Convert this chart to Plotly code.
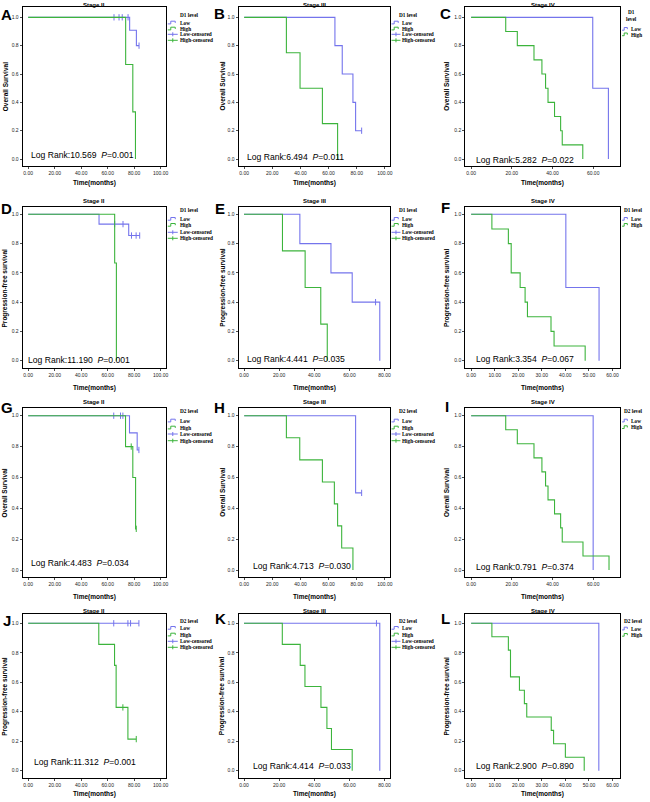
import plotly.graph_objects as go
from bisect import bisect_right

# ---------------- data ----------------
# A: Overall survival, Stage II, D1 level
A_low_t = [0, 76.6, 81.7, 83.7]
A_low_s = [1.0, 0.909, 0.800, 0.800]
A_low_cens = [64.8, 68.6, 71.0, 75.4, 83.7]
A_high_t = [0, 73.6, 79.0, 81.0]
A_high_s = [1.0, 0.667, 0.333, 0.0]
A_high_cens = []

# B: Overall survival, Stage III, D1 level
B_low_t = [0, 64.5, 69.7, 77.3, 79.2, 83.5]
B_low_s = [1.0, 0.8, 0.6, 0.4, 0.2, 0.2]
B_low_cens = [83.5]
B_high_t = [0, 30.0, 39.7, 55.6, 66.4]
B_high_s = [1.0, 0.75, 0.5, 0.25, 0.0]
B_high_cens = []

# C: Overall survival, Stage IV, D1 level
C_low_t = [0, 59.8, 67.5]
C_low_s = [1.0, 0.5, 0.0]
C_low_cens = []
C_high_t = [0, 17.0, 22.7, 30.9, 34.8, 36.6, 37.8, 41.0, 44.0, 44.8, 54.9]
C_high_s = [1.0, 0.9, 0.8, 0.7, 0.6, 0.5, 0.4, 0.3, 0.2, 0.1, 0.0]
C_high_cens = []

# D: Progression-free survival, Stage II, D1 level
D_low_t = [0, 53.5, 75.9, 84.2]
D_low_s = [1.0, 0.933, 0.855, 0.855]
D_low_cens = [65.3, 71.6, 78.0, 81.5, 84.2]
D_high_t = [0, 65.3, 66.6]
D_high_s = [1.0, 0.667, 0.0]
D_high_cens = []

# E: Progression-free survival, Stage III, D1 level
E_low_t = [0, 31.8, 49.5, 61.6, 77.3]
E_low_s = [1.0, 0.8, 0.6, 0.4, 0.0]
E_low_cens = [74.9]
E_high_t = [0, 21.9, 34.8, 43.7, 47.4]
E_high_s = [1.0, 0.75, 0.5, 0.25, 0.0]
E_high_cens = []

# F: Progression-free survival, Stage IV, D1 level
F_low_t = [0, 40.2, 54.3]
F_low_s = [1.0, 0.5, 0.0]
F_low_cens = []
F_high_t = [0, 8.8, 15.8, 17.0, 20.8, 22.9, 23.9, 33.9, 35.2, 48.4]
F_high_s = [1.0, 0.9, 0.8, 0.6, 0.5, 0.4, 0.3, 0.2, 0.1, 0.0]
F_high_cens = []

# G: Overall survival, Stage II, D2 level
G_low_t = [0, 76.5, 82.3, 83.6]
G_low_s = [1.0, 0.889, 0.778, 0.778]
G_low_cens = [64.6, 69.7, 71.5, 83.6]
G_high_t = [0, 73.5, 79.0, 81.1, 81.6]
G_high_s = [1.0, 0.8, 0.6, 0.267, 0.267]
G_high_cens = [77.8, 81.6]

# H: Overall survival, Stage III, D2 level
H_low_t = [0, 79.2, 83.5]
H_low_s = [1.0, 0.5, 0.5]
H_low_cens = [83.5]
H_high_t = [0, 30.0, 39.5, 55.6, 64.1, 66.4, 69.3, 77.3]
H_high_s = [1.0, 0.857, 0.714, 0.571, 0.429, 0.286, 0.143, 0.0]
H_high_cens = []

# I: Overall survival, Stage IV, D2 level
I_low_t = [0, 60.0]
I_low_s = [1.0, 0.0]
I_low_cens = []
I_high_t = [0, 17.0, 22.7, 30.9, 34.8, 36.6, 37.8, 41.0, 44.0, 44.8, 55.0, 67.8]
I_high_s = [1.0, 0.909, 0.818, 0.727, 0.636, 0.545, 0.455, 0.364, 0.273, 0.182, 0.091, 0.0]
I_high_cens = []

# J: Progression-free survival, Stage II, D2 level
J_low_t = [0, 83.6]
J_low_s = [1.0, 1.0]
J_low_cens = [64.6, 75.3, 77.3, 83.6]
J_high_t = [0, 53.3, 65.2, 66.4, 75.3, 81.6]
J_high_s = [1.0, 0.857, 0.714, 0.429, 0.214, 0.214]
J_high_cens = [71.5, 81.6]

# K: Progression-free survival, Stage III, D2 level
K_low_t = [0, 77.3]
K_low_s = [1.0, 0.0]
K_low_cens = [75.4]
K_high_t = [0, 21.8, 32.0, 34.7, 43.8, 47.2, 49.8, 61.6]
K_high_s = [1.0, 0.857, 0.714, 0.571, 0.429, 0.286, 0.143, 0.0]
K_high_cens = []

# L: Progression-free survival, Stage IV, D2 level
L_low_t = [0, 54.2]
L_low_s = [1.0, 0.0]
L_low_cens = []
L_high_t = [0, 8.8, 15.8, 16.7, 20.5, 22.6, 23.6, 34.0, 35.0, 40.0, 48.0]
L_high_s = [1.0, 0.909, 0.818, 0.636, 0.545, 0.455, 0.364, 0.273, 0.182, 0.091, 0.0]
L_high_cens = []

letters = ["A", "B", "C", "D", "E", "F", "G", "H", "I", "J", "K", "L"]
stages = ["Stage II", "Stage III", "Stage IV"] * 4
ylabels = ["Overall Survival"] * 3 + ["Progression-free survival"] * 3 + \
          ["Overall Survival"] * 3 + ["Progression-free survival"] * 3
levels = ["D1 level"] * 6 + ["D2 level"] * 6
log_rank = ["10.569", "6.494", "5.282", "11.190", "4.441", "3.354",
            "4.483", "4.713", "0.791", "11.312", "4.414", "2.900"]
p_values = ["0.001", "0.011", "0.022", "0.001", "0.035", "0.067",
            "0.034", "0.030", "0.374", "0.001", "0.033", "0.890"]
x_ticks_100 = [0, 20, 40, 60, 80, 100]
x_ticks_80 = [0, 20, 40, 60, 80]
x_ticks_60 = [0, 20, 40, 60]
x_ticks_60_by10 = [0, 10, 20, 30, 40, 50, 60]
y_ticks = [0.0, 0.2, 0.4, 0.6, 0.8, 1.0]
legend_entries = ["Low", "High", "Low-censored", "High-censored"]

curves = [
    (A_low_t, A_low_s, A_low_cens, A_high_t, A_high_s, A_high_cens),
    (B_low_t, B_low_s, B_low_cens, B_high_t, B_high_s, B_high_cens),
    (C_low_t, C_low_s, C_low_cens, C_high_t, C_high_s, C_high_cens),
    (D_low_t, D_low_s, D_low_cens, D_high_t, D_high_s, D_high_cens),
    (E_low_t, E_low_s, E_low_cens, E_high_t, E_high_s, E_high_cens),
    (F_low_t, F_low_s, F_low_cens, F_high_t, F_high_s, F_high_cens),
    (G_low_t, G_low_s, G_low_cens, G_high_t, G_high_s, G_high_cens),
    (H_low_t, H_low_s, H_low_cens, H_high_t, H_high_s, H_high_cens),
    (I_low_t, I_low_s, I_low_cens, I_high_t, I_high_s, I_high_cens),
    (J_low_t, J_low_s, J_low_cens, J_high_t, J_high_s, J_high_cens),
    (K_low_t, K_low_s, K_low_cens, K_high_t, K_high_s, K_high_cens),
    (L_low_t, L_low_s, L_low_cens, L_high_t, L_high_s, L_high_cens),
]
panel_xticks = [x_ticks_100, x_ticks_100, x_ticks_60,
                x_ticks_100, x_ticks_80, x_ticks_60_by10,
                x_ticks_100, x_ticks_100, x_ticks_60,
                x_ticks_100, x_ticks_80, x_ticks_60_by10]

# ---------------- layout / style ----------------
W, H = 650, 802
BLUE = "#7474ec"
GREEN = "#3cb43c"
SANS = "Liberation Sans"
SERIF = "Liberation Serif"

col_box = [(22.7, 166.7), (239.3, 391.7), (466.7, 621.7)]
row_box = [(6.7, 165.7), (206.7, 368.3), (408.3, 576.7), (613.7, 778.0)]
row_yrange = [(-0.047, 1.075), (-0.052, 1.052), (-0.043, 1.048), (-0.05, 1.065)]
panel_xrange = [(-4.2, 104.2), (-4.0, 104.0), (-2.9, 73.1),
                (-4.2, 104.2), (-3.1, 83.4), (-2.5, 63.1),
                (-4.2, 104.2), (-4.0, 104.0), (-2.9, 73.1),
                (-4.2, 104.2), (-3.1, 83.4), (-2.5, 63.1)]
title_y = [5, 201, 402, 611]
xtitle_y = [183, 387.7, 597, 794]
ytitle_x = [5, 223, 448]
letter_pos = [(7, 14), (220, 13), (447, 13), (7, 208), (221, 208), (447, 207),
              (7, 407), (220, 407.5), (448, 406), (7, 620), (221, 618), (447, 618)]
lr_pos = [(30, 155), (246.7, 156.7), (476.7, 160), (26.7, 360), (246.7, 359),
          (476.7, 359.3), (30, 562.7), (252.7, 566), (476.7, 566.7),
          (33.3, 762.3), (252.7, 765.7), (476.7, 765.7)]
leg_title_y = [15, 210, 411, 620.7]
leg_entry_y = [[22.7, 28.7, 34.3, 40.3], [219, 225, 232.3, 238.3],
               [420.7, 427.7, 434, 440.7], [628, 634.7, 641.3, 647.3]]
leg_icon_x = [(168.3, 178.3), (392.7, 401.7), (624, 631)]
leg_title_x = [190, 410, 635]
col3_entry_y = [[29, 34.5], [219, 225], [420.7, 427.3], [628.7, 635]]


def px(x):
    return x / W


def py(y):
    return 1 - y / H


def surv_at(t, s, c):
    i = bisect_right(t, c) - 1
    return s[max(i, 0)]


def note(x, y, text, size, family=SANS, xanchor="center", angle=0):
    return dict(x=px(x), y=py(y), xref="paper", yref="paper", text=text,
                showarrow=False, xanchor=xanchor, yanchor="middle", textangle=angle,
                borderpad=0, font=dict(family=family, size=size, color="black"))


fig = go.Figure()
annotations = []
shapes = []
layout_axes = {}

for i in range(12):
    r, c = divmod(i, 3)
    n = i + 1
    xa = "x" if n == 1 else f"x{n}"
    ya = "y" if n == 1 else f"y{n}"
    lt, ls, lc, ht, hs, hc = curves[i]

    for (t, s, cens, col, name) in [(lt, ls, lc, BLUE, "Low"), (ht, hs, hc, GREEN, "High")]:
        fig.add_trace(go.Scatter(x=t, y=s, mode="lines", name=name,
                                 line=dict(shape="hv", color=col, width=1.1),
                                 xaxis=xa, yaxis=ya, showlegend=False, hoverinfo="skip"))
        if cens:
            fig.add_trace(go.Scatter(x=cens, y=[surv_at(t, s, v) for v in cens], mode="markers",
                                     name=name + "-censored",
                                     marker=dict(symbol="line-ns-open", size=4.5, color=col,
                                                 line=dict(width=1, color=col)),
                                     xaxis=xa, yaxis=ya, showlegend=False, hoverinfo="skip"))

    x0, x1 = col_box[c]
    y0, y1 = row_box[r]
    axis_common = dict(showline=True, mirror=True, linecolor="black", linewidth=1,
                       ticks="outside", ticklen=2, tickwidth=0.7, tickcolor="black",
                       showgrid=False, zeroline=False,
                       tickfont=dict(family=SANS, size=5, color="#222222"))
    xt = panel_xticks[i]
    layout_axes["xaxis" if n == 1 else f"xaxis{n}"] = dict(
        domain=[px(x0), px(x1)], anchor=ya, range=list(panel_xrange[i]),
        tickvals=xt, ticktext=[f"{v:.2f}" for v in xt], **axis_common)
    layout_axes["yaxis" if n == 1 else f"yaxis{n}"] = dict(
        domain=[py(y1), py(y0)], anchor=xa, range=list(row_yrange[r]),
        tickvals=y_ticks, ticktext=[f"{v:.1f}" for v in y_ticks], **axis_common)

    cx = (x0 + x1) / 2
    cy = (y0 + y1) / 2
    annotations.append(note(letter_pos[i][0], letter_pos[i][1], f"<b>{letters[i]}</b>", 15))
    annotations.append(note(cx, title_y[r], f"<b>{stages[i]}</b>", 6))
    annotations.append(note(cx, xtitle_y[r], "<b>Time(months)</b>", 6.5))
    annotations.append(note(ytitle_x[c], cy, f"<b>{ylabels[i]}</b>", 6.5, angle=-90))
    annotations.append(note(lr_pos[i][0], lr_pos[i][1],
                            f"Log Rank:{log_rank[i]}  <i>P</i>={p_values[i]}", 8.6, xanchor="left"))

    # legend (drawn by hand, SPSS style)
    ix0, ix1 = leg_icon_x[c]
    if c < 2:
        annotations.append(note(leg_title_x[c], leg_title_y[r], f"<b>{levels[i]}</b>", 5.3, SERIF))
        ys = leg_entry_y[r]
        entries = legend_entries
    else:
        if r == 0:
            annotations.append(note(633, 16, "<b>" + levels[i].replace(" ", "<br>") + "</b>", 5.3, SERIF))
        else:
            annotations.append(note(leg_title_x[c], leg_title_y[r], f"<b>{levels[i]}</b>", 5.3, SERIF))
        ys = col3_entry_y[r]
        entries = legend_entries[:2]
    for k, (lab, ey) in enumerate(zip(entries, ys)):
        col = BLUE if k % 2 == 0 else GREEN
        if k < 2:
            a, b = ix0 + (ix1 - ix0) * 0.3, ix0 + (ix1 - ix0) * 0.75
            path = (f"M {px(ix0)},{py(ey + 1.2)} L {px(a)},{py(ey + 1.2)} L {px(a)},{py(ey - 1.5)} "
                    f"L {px(b)},{py(ey - 1.5)} L {px(b)},{py(ey + 0.2)}")
            shapes.append(dict(type="path", xref="paper", yref="paper", path=path,
                               line=dict(color=col, width=1)))
        else:
            shapes.append(dict(type="line", xref="paper", yref="paper",
                               x0=px(ix0), x1=px(ix1), y0=py(ey), y1=py(ey),
                               line=dict(color=col, width=1)))
            m = (ix0 + ix1) / 2
            shapes.append(dict(type="line", xref="paper", yref="paper",
                               x0=px(m), x1=px(m), y0=py(ey - 2), y1=py(ey + 2),
                               line=dict(color=col, width=1)))
        annotations.append(note(ix1 + 0.8, ey, f"<b>{lab}</b>", 5.3, SERIF, xanchor="left"))

fig.update_layout(width=W, height=H, margin=dict(l=0, r=0, t=0, b=0),
                  paper_bgcolor="white", plot_bgcolor="white",
                  annotations=annotations, shapes=shapes, **layout_axes)

fig.write_html("out.html", config={"displayModeBar": False, "staticPlot": True},
               post_script="document.body.style.margin='0';document.body.style.overflow='hidden';")
